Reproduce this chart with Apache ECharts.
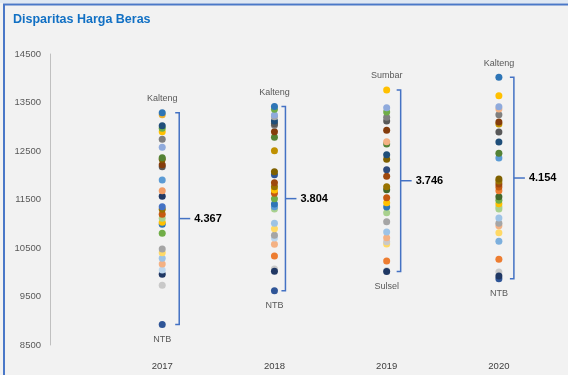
<!DOCTYPE html>
<html>
<head>
<meta charset="utf-8">
<script src="https://cdn.jsdelivr.net/npm/echarts@6/dist/echarts.min.js"></script>
<style>
html,body{margin:0;padding:0;background:#f2f2f2;}
#c{width:568px;height:375px;}
</style>
</head>
<body>
<div id="c"></div>
<script>
// ---------- DATA ----------
const years = ['2017', '2018', '2019', '2020'];
const yTicks = [8500, 9500, 10500, 11500, 12500, 13500, 14500];
const v2017 = [13290, 13250, 13022, 12968, 12898, 12741, 12576, 12362, 12328, 12218, 12177, 11902, 11682, 11566, 11352, 11298, 11195, 11112, 11030, 10988, 10803, 10479, 10403, 10287, 10170, 10046, 9958, 9731, 8923];
const v2018 = [13420, 13359, 13242, 13207, 13119, 13064, 13029, 12898, 12782, 12507, 12074, 12012, 11847, 11765, 11696, 11628, 11517, 11407, 11352, 11304, 11010, 10899, 10761, 10706, 10576, 10335, 10020, 10067, 9616];
const v2019 = [13760, 13393, 13304, 13194, 13119, 12926, 12692, 12644, 12424, 12328, 12114, 11978, 11765, 11702, 11537, 11434, 11345, 11228, 11042, 10830, 10713, 10631, 10583, 10232, 10014, 10030];
const v2020 = [14020, 13641, 13414, 13366, 13249, 13098, 13057, 12892, 12686, 12452, 12356, 11923, 11881, 11820, 11758, 11682, 11557, 11483, 11413, 11352, 11304, 11119, 11010, 10960, 10816, 10638, 10267, 9923, 10005, 9866];
const topNames = ['Kalteng', 'Kalteng', 'Sumbar', 'Kalteng'];
const bottomNames = ['NTB', 'NTB', 'Sulsel', 'NTB'];
const gapLabels = ['4.367', '3.804', '3.746', '4.154'];

// ---------- STYLE ----------
const c2017 = ['#2E75B6','#F0B030','#1F4E79','#70AD47','#FFC000','#7F7F7F','#8FAADC','#548235','#7F6000','#843C0C','#595959','#5B9BD5','#F19C65','#203864','#4472C4','#997300','#C55A11','#A9D18E','#FFC000','#2E75B6','#70AD47','#A5A5A5','#FFD966','#9DC3E6','#F4B183','#BDD7EE','#203864','#C9C9C9','#2F5597'];
const c2018 = ['#2E75B6','#70AD47','#8FAADC','#A5A5A5','#1F4E79','#595959','#7F7F7F','#843C0C','#548235','#BF9000','#7F6000','#2F5597','#9E480E','#997300','#FFC000','#C55A11','#70AD47','#2E75B6','#5B9BD5','#A9D18E','#9DC3E6','#FFD966','#A5A5A5','#BDD7EE','#F4B183','#ED7D31','#203864','#C9C9C9','#2F5597'];
const c2019 = ['#FFC000','#8FAADC','#70AD47','#7F7F7F','#595959','#843C0C','#F4B183','#548235','#1F4E79','#7F6000','#2F4B7C','#9E480E','#997300','#43682B','#C55A11','#FFC000','#2E75B6','#A9D18E','#A5A5A5','#9DC3E6','#F4B183','#C9C9C9','#FFD966','#ED7D31','#203864','#C9C9C9'];
const c2020 = ['#2E75B6','#FFC000','#8FAADC','#F4B183','#7F7F7F','#843C0C','#BF9000','#595959','#1F4E79','#548235','#5B9BD5','#7F6000','#997300','#9E480E','#C55A11','#ED7D31','#43682B','#70AD47','#FFC000','#A9D18E','#A9D18E','#9DC3E6','#A5A5A5','#F4B183','#FFD966','#7CAFDD','#ED7D31','#203864','#C9C9C9','#2F5597'];
const bracketDx = [17, 11, 14, 15];

const allVals = [v2017, v2018, v2019, v2020];
const allCols = [c2017, c2018, c2019, c2020];

const dots = [];
allVals.forEach((arr, i) => {
  // draw later entries first so earlier entries sit on top, as in the reference
  for (let j = arr.length - 1; j >= 0; j--) {
    dots.push({ value: [i + 1, arr[j]], itemStyle: { color: allCols[i][j] } });
  }
});

const rangeData = allVals.map((arr, i) => [i + 1, Math.max(...arr), Math.min(...arr)]);

const chart = echarts.init(document.getElementById('c'));
const FONT = 'Liberation Sans';
chart.setOption({
  backgroundColor: '#f2f2f2',
  animation: false,
  textStyle: { fontFamily: FONT },
  graphic: [
    { type: 'rect', shape: { x: 0, y: 0, width: 568, height: 3 }, style: { fill: '#dfe8f3' }, z: 10 },
    { type: 'line', shape: { x1: 3, y1: 4.5, x2: 568, y2: 4.5 }, style: { stroke: '#4a78c8', lineWidth: 2 }, z: 10 },
    { type: 'line', shape: { x1: 4, y1: 4, x2: 4, y2: 375 }, style: { stroke: '#4a78c8', lineWidth: 2 }, z: 10 },
    { type: 'text', left: 13, top: 13, style: { text: 'Disparitas Harga Beras', fill: '#1170c4', font: 'bold 12.5px "Liberation Sans"' }, z: 10 }
  ],
  grid: { left: 50, right: 13, top: 54, bottom: 30, containLabel: false },
  xAxis: {
    type: 'value', min: 0, max: 4.5, interval: 1,
    axisLine: { show: false }, axisTick: { show: false }, splitLine: { show: false },
    axisLabel: {
      margin: 16, color: '#404040', fontSize: 9.5, fontFamily: FONT,
      formatter: v => (Number.isInteger(v) && years[v - 1]) ? years[v - 1] : ''
    }
  },
  yAxis: {
    type: 'value', min: yTicks[0], max: yTicks[yTicks.length - 1], interval: 1000,
    axisLine: { show: true, lineStyle: { color: '#c0c0c0', width: 1 } },
    axisTick: { show: false }, splitLine: { show: false },
    axisLabel: { margin: 9, color: '#595959', fontSize: 9.5, fontFamily: FONT, formatter: v => String(v) }
  },
  series: [
    {
      type: 'scatter', symbol: 'circle', symbolSize: 7, data: dots, z: 3,
      itemStyle: { opacity: 1 }
    },
    {
      type: 'custom', data: rangeData, z: 4, clip: false,
      encode: { x: 0, y: [1, 2] },
      renderItem: function (params, api) {
        const i = params.dataIndex;
        const top = api.coord([api.value(0), api.value(1)]);
        const bot = api.coord([api.value(0), api.value(2)]);
        const x = top[0] + bracketDx[i];
        const mid = (top[1] + bot[1]) / 2;
        const blue = '#4472C4';
        return {
          type: 'group',
          children: [
            { type: 'polyline', shape: { points: [[x - 4, top[1]], [x, top[1]], [x, bot[1]], [x - 4, bot[1]]] },
              style: { stroke: blue, lineWidth: 1.5, fill: null } },
            { type: 'line', shape: { x1: x, y1: mid, x2: x + 11, y2: mid }, style: { stroke: blue, lineWidth: 1.5 } },
            { type: 'text', x: x + 15, y: mid,
              style: { text: gapLabels[i], fill: '#000', font: 'bold 11px "Liberation Sans"', textVerticalAlign: 'middle', textAlign: 'left' } },
            { type: 'text', x: top[0], y: top[1] - 14,
              style: { text: topNames[i], fill: '#595959', font: '9px "Liberation Sans"', textVerticalAlign: 'middle', textAlign: 'center' } },
            { type: 'text', x: bot[0], y: bot[1] + 15,
              style: { text: bottomNames[i], fill: '#595959', font: '9px "Liberation Sans"', textVerticalAlign: 'middle', textAlign: 'center' } }
          ]
        };
      }
    }
  ]
});
</script>
</body>
</html>
